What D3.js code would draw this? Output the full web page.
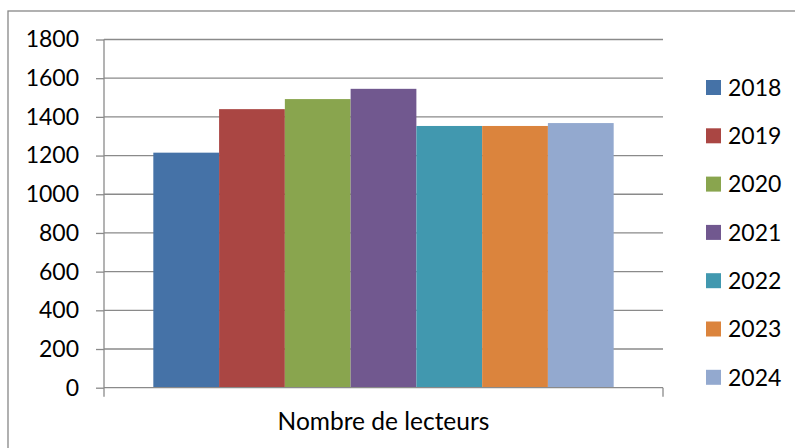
<!DOCTYPE html>
<html lang="fr">
<head>
  <meta charset="UTF-8">
  <title>Nombre de lecteurs</title>
  <script src="https://d3js.org/d3.v7.min.js"></script>
  <style>
    body { margin: 0; background: #fff; }
    svg { display: block; }
    svg text { font-family: Lato, "Open Sans", sans-serif; font-size: 23px; fill: #000; }
    .xaxis text { font-size: 24.5px; }
  </style>
</head>
<body>
<svg width="795" height="448"></svg>

<script>
  // Données : nombre de lecteurs par année
  const categories = ["Nombre de lecteurs"];
  const years = ["2018", "2019", "2020", "2021", "2022", "2023", "2024"];
  const values = [1215, 1440, 1492, 1545, 1353, 1353, 1368];
  const colors = ["#4572A7", "#AA4643", "#89A54E", "#71588F", "#4198AF", "#DB843D", "#93A9CF"];
  const yTicks = [0, 200, 400, 600, 800, 1000, 1200, 1400, 1600, 1800];

  const svg = d3.select("svg");
  const margin = {top: 39.5, left: 104};
  const width = 663 - margin.left,
        height = 387.7 - margin.top;

  // cadre du graphique
  svg.append("rect")
      .attr("x", 8).attr("y", 11)
      .attr("width", 800).attr("height", 460)
      .attr("fill", "none")
      .attr("stroke", "#878787")
      .attr("stroke-width", 1.3);

  const g = svg.append("g").attr("transform", `translate(${margin.left},${margin.top})`);

  const x0 = d3.scaleBand()
      .domain(categories)
      .range([0, width])
      .padding(0);

  // largeur d'intervalle 150 %
  const gap = 1.5;
  const barW = x0.bandwidth() / (years.length + gap);
  const x1 = d3.scaleBand()
      .domain(years)
      .range([barW * gap / 2, x0.bandwidth() - barW * gap / 2]);

  const y = d3.scaleLinear()
      .domain([0, 1800])
      .range([height, 0]);

  // grille
  g.append("g")
    .selectAll("line")
    .data(yTicks.filter(d => d > 0))
    .join("line")
      .attr("x1", 0).attr("x2", width)
      .attr("y1", d => y(d)).attr("y2", d => y(d))
      .attr("stroke", "#8a8a8a")
      .attr("stroke-width", 1.3);

  // barres
  g.append("g")
    .selectAll("g")
    .data(categories)
    .join("g")
      .attr("transform", d => `translate(${x0(d)},0)`)
    .selectAll("rect")
    .data(() => years.map((k, i) => ({key: k, value: values[i], color: colors[i]})))
    .join("rect")
      .attr("x", d => x1(d.key))
      .attr("y", d => y(d.value))
      .attr("width", x1.bandwidth())
      .attr("height", d => height - y(d.value))
      .attr("fill", d => d.color);

  // axe Y
  const yAxis = g.append("g")
      .call(d3.axisLeft(y).tickValues(yTicks).tickFormat(d3.format("d")).tickSize(8).tickPadding(17));
  yAxis.select(".domain").remove();
  yAxis.selectAll(".tick line").attr("stroke", "#8a8a8a").attr("stroke-width", 1.3);
  yAxis.append("line")
      .attr("x1", 0).attr("x2", 0)
      .attr("y1", 0).attr("y2", height + 9)
      .attr("stroke", "#8a8a8a").attr("stroke-width", 1.3);

  // axe X
  const xAxis = g.append("g")
      .attr("class", "xaxis")
      .attr("transform", `translate(0,${height})`)
      .call(d3.axisBottom(x0).tickSize(0).tickPadding(25));
  xAxis.select(".domain").remove();
  xAxis.append("line")
      .attr("x1", 0).attr("x2", width)
      .attr("stroke", "#8a8a8a").attr("stroke-width", 1.3);
  xAxis.append("line")
      .attr("x1", width).attr("x2", width)
      .attr("y1", 0).attr("y2", 9)
      .attr("stroke", "#8a8a8a").attr("stroke-width", 1.3);

  // légende
  const legend = svg.append("g")
      .attr("transform", "translate(706,80)");

  years.forEach((key, i) => {
    const row = legend.append("g")
        .attr("transform", `translate(0, ${i * 48.3})`);
    row.append("rect")
        .attr("width", 15)
        .attr("height", 15)
        .attr("fill", colors[i]);
    row.append("text")
        .attr("x", 22)
        .attr("y", 7.5)
        .attr("dy", "0.36em")
        .text(key);
  });
</script>
</body>
</html>
